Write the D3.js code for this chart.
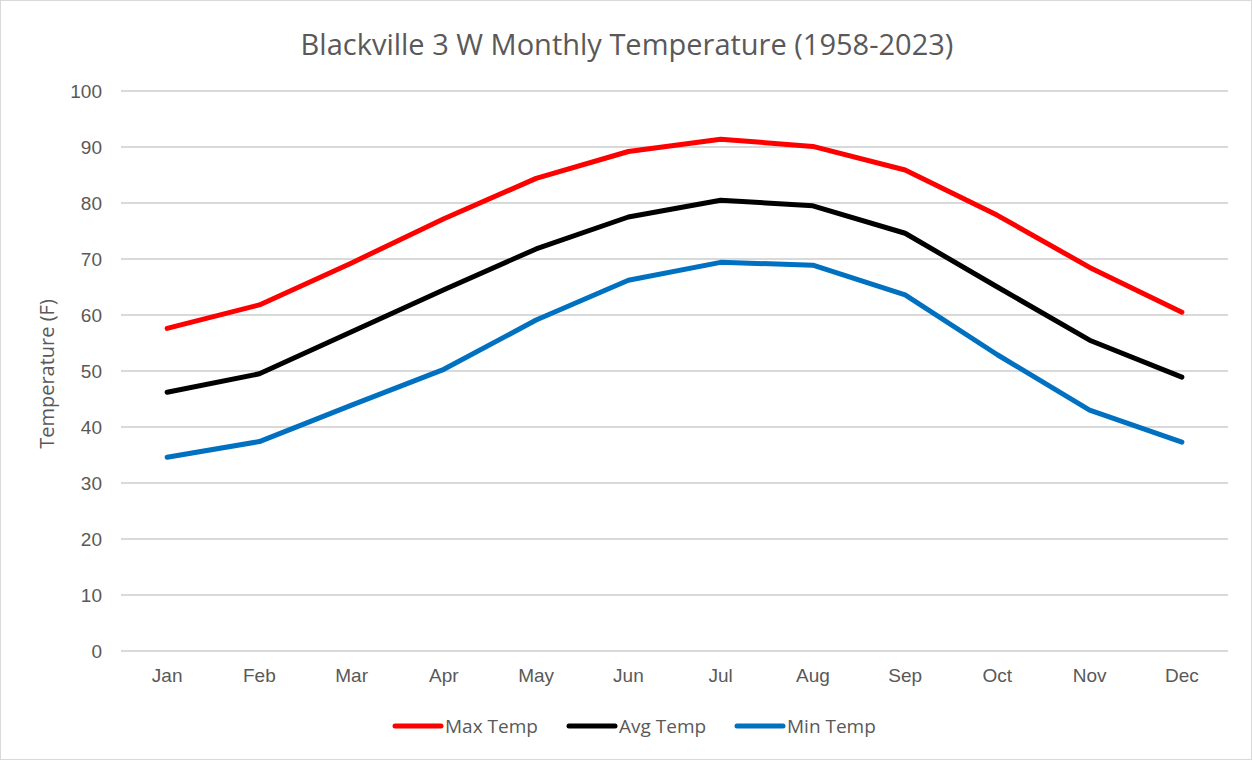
<!DOCTYPE html>
<html>
<head>
<meta charset="utf-8">
<script src="https://cdn.jsdelivr.net/npm/d3@7"></script>
<style>
  body { margin: 0; background: #fff; }
  svg { display: block; font-family: "Open Sans", Lato, sans-serif; }
</style>
</head>
<body>
<svg id="viz" width="1252" height="760"></svg>
<script>
// monthly normals, Blackville 3 W
var months = ["Jan", "Feb", "Mar", "Apr", "May", "Jun", "Jul", "Aug", "Sep", "Oct", "Nov", "Dec"];
var maxTemp = [57.6, 61.8, 69.3, 77.2, 84.4, 89.2, 91.4, 90.1, 85.9, 77.8, 68.5, 60.5];
var avgTemp = [46.2, 49.5, 57.0, 64.5, 71.8, 77.5, 80.5, 79.5, 74.6, 65.0, 55.5, 48.9];
var minTemp = [34.6, 37.4, 43.9, 50.3, 59.1, 66.2, 69.4, 68.9, 63.6, 52.9, 43.0, 37.3];
var yTicks = [0, 10, 20, 30, 40, 50, 60, 70, 80, 90, 100];
var seriesNames = ["Max Temp", "Avg Temp", "Min Temp"];
var seriesColors = ["#ff0000", "#000000", "#0070c0"];

var svg = d3.select("#viz");
var width = +svg.attr("width");
var height = +svg.attr("height");
var margin = {top: 91, right: 24, bottom: 109, left: 121};
var textColor = "#595959";

// outer chart border
svg.append("rect")
    .attr("x", 0.5).attr("y", 0.5)
    .attr("width", width - 1).attr("height", height - 1)
    .attr("fill", "#fff")
    .attr("stroke", "#d9d9d9");

var x = d3.scaleBand()
    .domain(months)
    .range([margin.left, width - margin.right]);

var y = d3.scaleLinear()
    .domain([0, 100])
    .range([height - margin.bottom, margin.top]);

// gridlines
svg.append("g")
    .selectAll("line")
    .data(yTicks)
    .enter()
    .append("line")
    .attr("x1", margin.left)
    .attr("x2", width - margin.right)
    .attr("y1", d => y(d))
    .attr("y2", d => y(d))
    .attr("stroke", "#d9d9d9")
    .attr("stroke-width", 2);

// y axis labels
var yAxis = d3.axisLeft(y).tickValues(yTicks).tickSize(0).tickPadding(19);
svg.append("g")
    .attr("transform", `translate(${margin.left},0)`)
    .call(yAxis)
    .call(g => g.select(".domain").remove())
    .selectAll("text")
    .attr("fill", textColor)
    .style("font-size", "19px");

// x axis labels
var xAxis = d3.axisBottom(x).tickSize(0).tickPadding(18);
svg.append("g")
    .attr("transform", `translate(0,${height - margin.bottom})`)
    .call(xAxis)
    .call(g => g.select(".domain").remove())
    .selectAll("text")
    .attr("fill", textColor)
    .style("font-size", "19px");

// title
svg.append("text")
    .attr("x", 627)
    .attr("y", 55)
    .attr("text-anchor", "middle")
    .attr("fill", textColor)
    .style("font-size", "29px")
    .text("Blackville 3 W Monthly Temperature  (1958-2023)");

// y axis title
svg.append("text")
    .attr("transform", `translate(54,${(margin.top + height - margin.bottom) / 2 + 3}) rotate(-90)`)
    .attr("text-anchor", "middle")
    .attr("fill", textColor)
    .style("font-size", "20px")
    .text("Temperature (F)");

var line = d3.line()
    .x((d, i) => x(months[i]) + x.bandwidth() / 2)
    .y(d => y(d));

var allSeries = [maxTemp, avgTemp, minTemp];
svg.append("g")
    .selectAll("path")
    .data(allSeries)
    .enter()
    .append("path")
    .attr("d", line)
    .attr("fill", "none")
    .attr("stroke", (d, i) => seriesColors[i])
    .attr("stroke-width", 5)
    .attr("stroke-linejoin", "round")
    .attr("stroke-linecap", "round");

// legend
var legendX = [395, 569, 737];
var legend = svg.append("g")
    .selectAll("g")
    .data(seriesNames)
    .enter()
    .append("g")
    .attr("transform", (d, i) => `translate(${legendX[i]},726)`);

legend.append("line")
    .attr("x1", 0).attr("x2", 46)
    .attr("stroke", (d, i) => seriesColors[i])
    .attr("stroke-width", 5)
    .attr("stroke-linecap", "round");

legend.append("text")
    .attr("x", 50)
    .attr("dy", "0.35em")
    .attr("fill", textColor)
    .style("font-size", "19px")
    .text(d => d);
</script>
</body>
</html>
